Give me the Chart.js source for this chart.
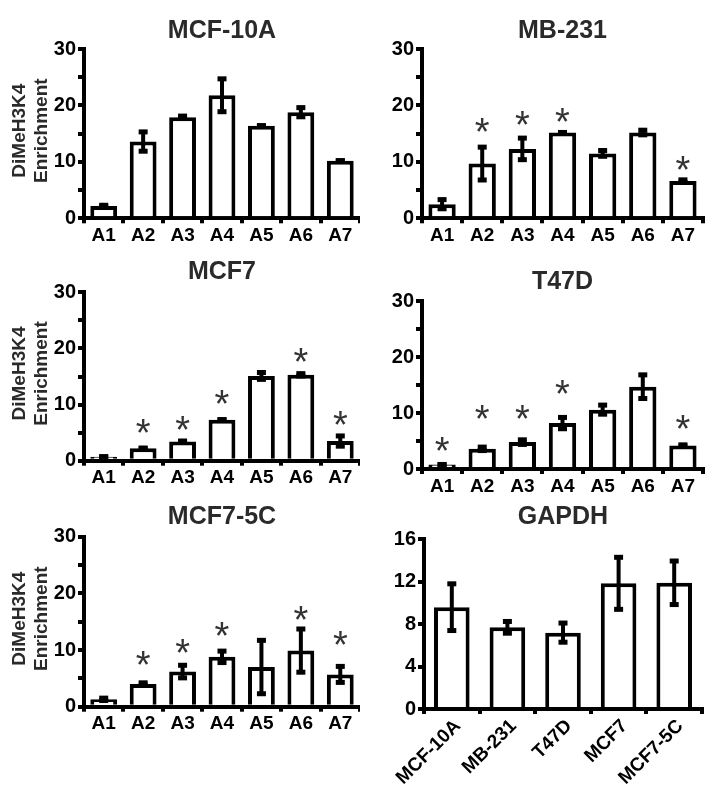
<!DOCTYPE html>
<html>
<head>
<meta charset="utf-8">
<script src="https://cdn.jsdelivr.net/npm/chart.js@4.4.1/dist/chart.umd.min.js"></script>
<style>
html,body{margin:0;padding:0;background:#fff;width:719px;height:804px;overflow:hidden;position:relative}
canvas{position:absolute}
</style>
</head>
<body>
<script>
// ---------- DATA ----------
const sites = ['A1','A2','A3','A4','A5','A6','A7'];
const cellLines = ['MCF-10A','MB-231','T47D','MCF7','MCF7-5C'];
const yAxisTitle = ['DiMeH3K4','Enrichment'];

const mcf10aMean = [2.2, 13.6, 17.9, 21.8, 16.4, 18.8, 10.2];
const mcf10aErr  = [0.2, 1.8, 0.3, 3.0, 0.1, 0.9, 0.1];
const mcf10aStar = [null, null, null, null, null, null, null];

const mb231Mean = [2.5, 9.7, 12.3, 15.2, 11.5, 15.2, 6.6];
const mb231Err  = [0.9, 3.0, 2.0, 0.1, 0.6, 0.5, 0.3];
const mb231Star = [null, 16.5, 17.8, 18.3, null, null, 9.8];

const mcf7Mean = [0.7, 2.2, 3.4, 7.3, 15.1, 15.3, 3.5];
const mcf7Err  = [0.1, 0.15, 0.2, 0.1, 0.7, 0.3, 1.0];
const mcf7Star = [null, 6.1, 6.7, 11.4, null, 18.8, 7.6];

const t47dMean = [0.8, 3.6, 4.8, 8.2, 10.6, 14.7, 4.2];
const t47dErr  = [0.1, 0.4, 0.5, 1.1, 0.9, 2.2, 0.2];
const t47dStar = [4.5, 10.2, 10.2, 14.6, null, null, 8.4];

const mcf75cMean = [1.3, 4.0, 6.2, 8.8, 7.0, 9.9, 5.7];
const mcf75cErr  = [0.3, 0.3, 1.2, 1.1, 4.8, 3.9, 1.5];
const mcf75cStar = [null, 8.6, 10.7, 13.8, null, 16.6, 12.2];

const gapdhMean = [9.6, 7.7, 7.2, 11.85, 11.9];
const gapdhErr  = [2.25, 0.6, 0.95, 2.5, 2.1];

const enrichMax = 30, enrichStep = 5, enrichLabelEvery = 10;
const gapdhMax = 16, gapdhStep = 4, gapdhLabelEvery = 4;

// ---------- LAYOUT / STYLE ----------
const FONT = '"Liberation Sans", Arial, Helvetica, sans-serif';
const panels = [
  {title:'MCF-10A', labels:sites, mean:mcf10aMean, err:mcf10aErr, star:mcf10aStar, yMax:enrichMax, step:enrichStep, every:enrichLabelEvery,
   box:[0,0,360,252], area:[84,49,363,218.3], titleY:29, yTitle:true, barPct:0.68, rot:0, lblOff:0},
  {title:'MB-231', labels:sites, mean:mb231Mean, err:mb231Err, star:mb231Star, yMax:enrichMax, step:enrichStep, every:enrichLabelEvery,
   box:[360,0,359,252], area:[422,49,703,218.3], titleY:29, yTitle:false, barPct:0.68, rot:0, lblOff:0},
  {title:'MCF7', labels:sites, mean:mcf7Mean, err:mcf7Err, star:mcf7Star, yMax:enrichMax, step:enrichStep, every:enrichLabelEvery,
   box:[0,245,360,255], area:[84,292.3,363,460.7], titleY:270, yTitle:true, barPct:0.68, rot:0, lblOff:0},
  {title:'T47D', labels:sites, mean:t47dMean, err:t47dErr, star:t47dStar, yMax:enrichMax, step:enrichStep, every:enrichLabelEvery,
   box:[360,245,359,255], area:[422,301,703,469], titleY:280, yTitle:false, barPct:0.68, rot:0, lblOff:0},
  {title:'MCF7-5C', labels:sites, mean:mcf75cMean, err:mcf75cErr, star:mcf75cStar, yMax:enrichMax, step:enrichStep, every:enrichLabelEvery,
   box:[0,490,360,314], area:[84,536.7,363,706.7], titleY:515, yTitle:true, barPct:0.68, rot:0, lblOff:0},
  {title:'GAPDH', labels:cellLines, mean:gapdhMean, err:gapdhErr, star:null, yMax:gapdhMax, step:gapdhStep, every:gapdhLabelEvery,
   box:[360,490,359,314], area:[424,539.3,702,709], titleY:514.5, yTitle:false, barPct:0.64, rot:45, lblOff:6}
];

function centeredText(ctx, text, cx, cy) {
  const m = ctx.measureText(text);
  const a = m.actualBoundingBoxAscent, d = m.actualBoundingBoxDescent;
  ctx.fillText(text, cx, cy + (a - d) / 2);
}

function makePanel(p) {
  const [bx, by, bw, bh] = p.box;
  const [al, at, ar, ab] = p.area;
  const c = document.createElement('canvas');
  c.width = bw; c.height = bh;
  c.style.left = bx + 'px'; c.style.top = by + 'px';
  c.style.width = bw + 'px'; c.style.height = bh + 'px';
  document.body.appendChild(c);

  const decor = {
    id: 'decor',
    afterDatasetsDraw(chart) {
      const ctx = chart.ctx;
      const ys = chart.scales.y;
      const meta = chart.getDatasetMeta(0);
      ctx.save();
      ctx.fillStyle = '#000';
      p.mean.forEach((v, i) => {
        const e = p.err[i];
        if (!e) return;
        const x = meta.data[i].x;
        const yT = ys.getPixelForValue(v + e);
        const yB = ys.getPixelForValue(Math.max(0, v - e));
        ctx.fillRect(x - 2, yT, 4, yB - yT);
        ctx.fillRect(x - 4.5, yT - 2, 9, 5);
        ctx.fillRect(x - 4.5, yB - 3, 9, 5);
      });
      if (p.star) {
        ctx.fillStyle = '#333';
        ctx.textAlign = 'center';
        ctx.textBaseline = 'alphabetic';
        ctx.font = '38px ' + FONT;
        p.star.forEach((s, i) => {
          if (s === null) return;
          centeredText(ctx, '*', meta.data[i].x, ys.getPixelForValue(s));
        });
      }
      ctx.restore();
    },
    afterDraw(chart) {
      const ctx = chart.ctx;
      const ca = chart.chartArea;
      ctx.save();
      ctx.fillStyle = '#2a2a2a';
      ctx.textAlign = 'center';
      ctx.textBaseline = 'alphabetic';
      ctx.font = 'bold 25px ' + FONT;
      centeredText(ctx, p.title, (ca.left + ca.right) / 2, p.titleY - by);
      if (p.yTitle) {
        ctx.font = 'bold 19px ' + FONT;
        const cy = (ca.top + ca.bottom) / 2 - 3;
        const baseX = [25 - bx, 46.5 - bx];
        yAxisTitle.forEach((t, k) => {
          ctx.save();
          ctx.translate(baseX[k], cy);
          ctx.rotate(-Math.PI / 2);
          ctx.fillText(t, 0, 0);
          ctx.restore();
        });
      }
      ctx.restore();
    }
  };

  new Chart(c, {
    type: 'bar',
    data: {
      labels: p.labels,
      datasets: [{
        data: p.mean,
        backgroundColor: '#ffffff',
        borderColor: '#000000',
        borderWidth: 4,
        barPercentage: p.barPct,
        categoryPercentage: 1
      }]
    },
    options: {
      responsive: false,
      animation: false,
      devicePixelRatio: 1,
      layout: { padding: { left: 0, top: at - by, right: bx + bw - ar, bottom: 0 } },
      plugins: { legend: { display: false }, tooltip: { enabled: false }, title: { display: false } },
      scales: {
        x: {
          z: 1,
          offset: true,
          grid: { display: true, offset: true, drawOnChartArea: false, drawTicks: true, tickLength: 5, lineWidth: 4, color: '#000' },
          border: { display: true, width: 4, color: '#000' },
          ticks: { autoSkip: false, maxRotation: p.rot, minRotation: p.rot, padding: 1, labelOffset: p.lblOff, color: '#000',
                   font: { family: FONT, size: 19, weight: 'bold' } },
          afterFit: s => { s.height = by + bh - ab; }
        },
        y: {
          z: 1,
          min: 0, max: p.yMax,
          grid: { display: true, drawOnChartArea: false, drawTicks: true, tickLength: 6, lineWidth: 4, color: '#000' },
          border: { display: true, width: 4, color: '#000' },
          ticks: { stepSize: p.step, padding: 2, color: '#000',
                   callback: v => (v % p.every === 0 ? String(v) : ''),
                   font: { family: FONT, size: 20, weight: 'bold' } },
          afterFit: s => { s.width = al - bx; }
        }
      }
    },
    plugins: [decor]
  });
}

panels.forEach(makePanel);
</script>
</body>
</html>
